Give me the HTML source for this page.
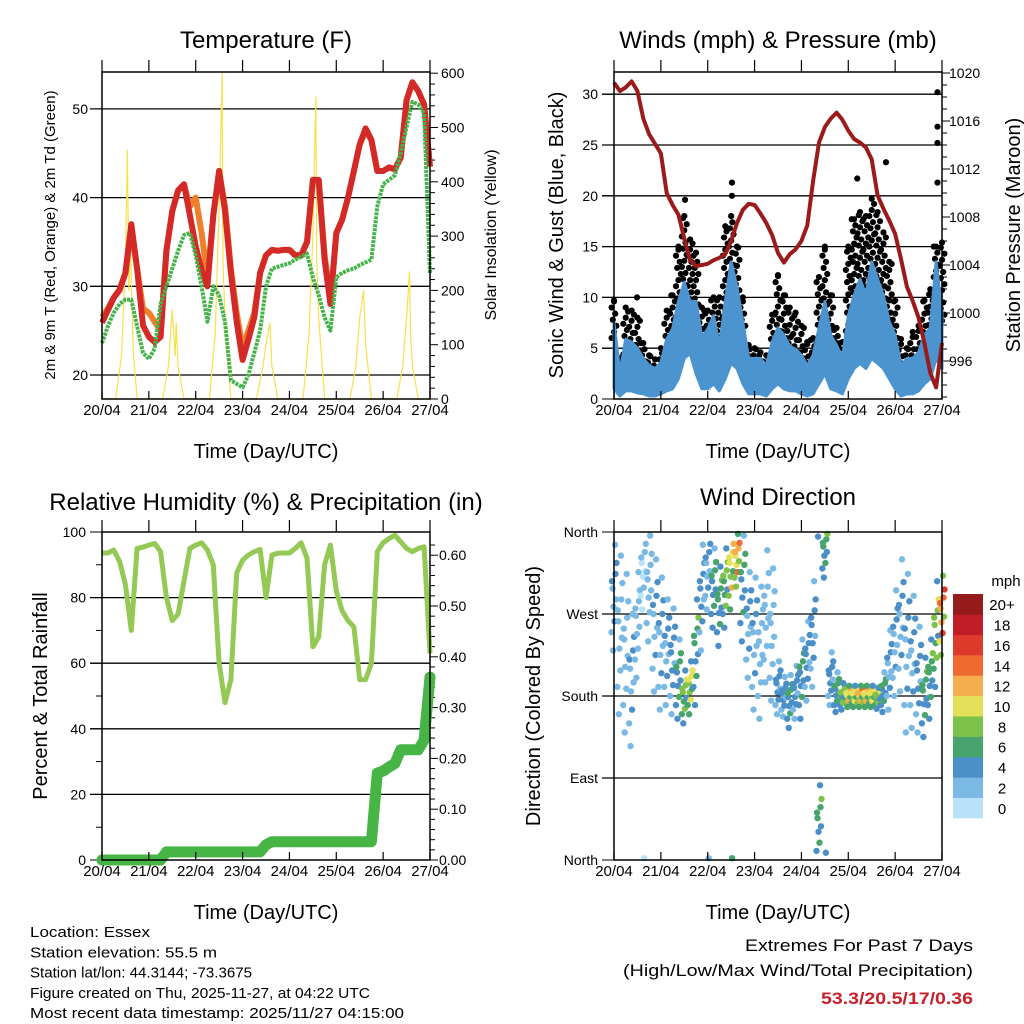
<!DOCTYPE html>
<html><head><meta charset="utf-8"><style>
html,body{margin:0;padding:0;background:#fff;}
svg{display:block;font-family:"Liberation Sans",Arial,sans-serif;}
</style></head><body>
<svg id="c" width="1024" height="1024" viewBox="0 0 1024 1024" xmlns="http://www.w3.org/2000/svg"></svg>
<script>
// ---- data (3-hourly, hour 0..168) ----
const dayLabels = ["20/04","21/04","22/04","23/04","24/04","25/04","26/04","27/04"];
const tempRed = [25.9,27.3,28.7,29.6,31.5,37,32,25.6,24.3,23.7,24.3,34,38.5,40.8,41.5,38,34.5,31.8,30,38,43,38.5,31.5,26,21.7,24,26.5,31.5,33.5,34.1,34,34.1,34.1,33.5,33.5,35,42,42,33,28,36,37.5,40,43,46,47.8,46.5,43,43,43.4,43.2,44.5,51,53,52,50.5,43.5];
const tempOrange = [26.5,27.5,28.7,29.6,31.5,36.5,32,27.5,27,26,25,34,38.5,40.8,41.5,39,40,36,31,38,43,39,32,27,23,25,27,31.5,33.5,34.1,34,34.1,34.1,33.5,33.5,35,42,42,33.5,28.5,36,37.5,40,43,46,47.5,46.5,43,43,43.4,43.2,44.5,51,53,52,50.5,43.5];
const dewGreen = [23.6,25.5,27,28,28.5,28.5,25.5,22.5,21.8,23,28,30,32,34,35.8,36,33.5,30,26,30,29,26,19.4,19,18.6,20,22.5,25,30,32,32.2,32.4,32.6,33,33.3,33.7,31,29,26.5,25,31,31.5,31.8,32,32.4,32.7,33,39,41.5,42,42.5,45,48,50.8,50.5,49.5,31.5];
const solarHour = [0,7,10,12,13,13.8,14.5,16,18,31,34,36,37.5,38,39,42,55,58,60,61.5,62,63,66,79,82,84,86,87,90,103,106,108,109.5,110,111,114,127,130,132,134,135,138,151,154,156,157.5,158,159,162,168];
const solarVal  = [0,0,80,250,458,200,300,90,0,0,60,164,80,140,60,0,0,120,350,600,250,150,0,0,50,100,140,60,0,0,120,300,556,250,150,0,0,60,150,200,100,0,0,60,150,234,120,60,0,0];
const pressure = [1019.2,1018.5,1018.8,1019.3,1018.5,1016.2,1014.9,1014.1,1013.3,1010,1009,1008.2,1006.2,1004.4,1003.9,1004,1004.1,1004.4,1004.6,1004.9,1006,1007.5,1008.6,1009.1,1009,1008.3,1007.5,1006.5,1005,1004.2,1004.9,1005.3,1006,1007.3,1011,1014.2,1015.5,1016.2,1016.7,1016.1,1015.2,1014.5,1014.2,1013.8,1012.8,1009.8,1008.7,1007.7,1006.6,1004.5,1002.2,1001,999.6,997.5,995,993.8,997.5];
const windHi = [7.5,2.6,5.9,5.6,5,4,3.3,3,3.6,5.9,6.9,9.6,11.5,9.6,9.6,6,6.9,8.2,5.2,9.6,13.5,11,7.5,4,4,4,3.3,5.6,7,6.3,5.2,4.9,4.3,3.3,4.3,7,9.6,6.3,5.3,4,8.2,10.2,11.8,10.2,13.5,11.8,10.2,7.6,6.3,3.3,4,4,4.6,6.3,7,13.5,8.6];
const windLo = [1,0.3,0.8,0.8,0.6,0.5,0.3,0.3,0.5,0.8,1,2,4,4.5,2.5,1,1,1.5,0.8,2,3.5,3,1.5,0.5,0.5,0.5,0.3,1,1.5,1,0.8,0.8,0.5,0.3,0.5,1.5,2.5,1,0.8,0.5,2,3,3.5,3,4,3.5,3,2,1,0.3,0.5,0.5,0.8,1.5,2,4,3];
const gust = [9.7,4,9,8.7,8,5.5,4.3,3.9,5,8.7,10.2,15,18,15.7,14.4,9,8.7,10,10,17,18,15,10,5.3,5,4.6,4.3,8.3,12.2,10.2,9,8.5,7.2,5.6,6,12,15,10.2,7,5.6,15,17.7,18.4,18,19.7,18.4,16.4,13.5,9.7,5.9,5,6.6,7.2,9.7,10.8,15,15.4];
const gustOutHour = [165.7,165.7,165.7,165.7,60.4,139.3,124.6,36.4,11.8,60.4];
const gustOutVal  = [30.2,26.8,25.2,21.3,21.3,23.3,21.7,19.6,10,20];
const rh = [93.6,93.6,94.5,91,84,70,95,95.4,96,96.5,94,80,73,75,85,95,96,96.7,94.5,90,60,48,55,87.5,91.4,93,94,94.7,80,93,93.5,93.6,93.6,95,96.7,92,65,68,90,96,82,76,73,71,55,55,60,94,96.7,98,99,97,95,94,95,95.5,63];
const precip = [0,0,0,0,0,0,0,0,0,0,0,0.016,0.016,0.016,0.016,0.016,0.016,0.016,0.016,0.016,0.016,0.016,0.016,0.016,0.016,0.016,0.016,0.016,0.03,0.036,0.036,0.036,0.036,0.036,0.036,0.036,0.036,0.036,0.036,0.036,0.036,0.036,0.036,0.036,0.036,0.036,0.036,0.171,0.175,0.183,0.19,0.217,0.217,0.217,0.217,0.236,0.36];
const dirMain = [290,250,230,200,260,320,300,260,240,230,220,200,180,190,230,290,320,300,280,300,320,330,300,260,240,230,270,250,190,180,175,185,200,220,250,40,340,200,185,180,180,180,180,180,180,178,185,210,240,260,230,220,200,180,200,250,270];
const dirSpread = [40,60,60,50,40,30,40,50,50,40,40,30,20,20,40,40,30,30,30,30,30,20,40,40,50,50,50,50,20,15,20,20,30,30,40,30,20,20,15,10,8,8,8,8,8,8,15,30,40,50,60,50,40,30,30,40,30];
const dirSpeed = [3,2,2,3,2,1,2,3,3,3,4,5,8,9,6,4,3,5,6,7,10,12,5,3,3,2,2,2,4,4,5,4,5,4,4,6,6,4,5,7,10,9,11,10,9,8,5,3,3,3,3,3,4,6,6,8,14];
const cbLabels = ["0","2","4","6","8","10","12","14","16","18","20+"];
const cbColors = ["#b8e2f7","#7ab9e4","#4a8fc8","#46a46c","#7dc24a","#e4e05a","#f6ad4e","#ee6a2e","#dd3a2c","#bf1e26","#941a1c"];

const NS="http://www.w3.org/2000/svg";
const svg=document.getElementById('c');
function el(tag,attrs,parent){const e=document.createElementNS(NS,tag);for(const k in attrs)e.setAttribute(k,attrs[k]);(parent||svg).appendChild(e);return e;}
function txt(s,x,y,size,anchor,parent,extra){const t=el('text',Object.assign({x:x,y:y,'font-size':size,'text-anchor':anchor||'start',fill:'#000'},extra||{}),parent);t.textContent=s;return t;}

function panel(name,L,R,T,B){
  const g=el('g',{});
  
  
  return {g,L,R,T,B,x:h=>L+h/168*(R-L)};
}
function frame(p){
  const f=el('rect',{x:p.L,y:p.T,width:p.R-p.L,height:p.B-p.T,fill:'none',stroke:'#000','stroke-width':1.5},p.g);
  
  
  for(let d=0;d<=7;d++){const x=p.x(d*24);
    el('line',{x1:x,x2:x,y1:p.B,y2:p.B-8,stroke:'#000','stroke-width':1.2},p.g);
    el('line',{x1:x,x2:x,y1:p.T,y2:p.T-12,stroke:'#000','stroke-width':1.2},p.g);
    const t=txt(dayLabels[d],x,p.B+16,15,'middle',p.g);
    
    
  }
  const xt=txt('Time (Day/UTC)',(p.L+p.R)/2,p.B+59,20,'middle',p.g);
  
  
}
function hgrid(p,y){el('line',{x1:p.L-12,x2:p.R,y1:y,y2:y,stroke:'#000','stroke-width':1.3},p.g);}
function path(pts){return pts.map((q,i)=>(i?'L':'M')+q[0].toFixed(1)+' '+q[1].toFixed(1)).join(' ');}
function rotText(s,x,y,size,parent,name){const t=txt(s,0,0,size,'middle',parent,{transform:`translate(${x},${y}) rotate(-90)`});return t;}
function title(s,x,y,name){const t=txt(s,x,y,24,'middle');}

// ===== Panel 1: Temperature =====
{
const p=panel('temperature-panel',102,430,72,399);
const yT=v=>375-(v-20)*8.87, yS=v=>399-v*0.543;
[20,30,40,50].forEach(v=>{hgrid(p,yT(v));const t=txt(String(v),p.L-14,yT(v)+5,14,'end',p.g);});
for(let v=0;v<=600;v+=20){const y=yS(v);if(y<p.T)continue;el('line',{x1:p.R,x2:p.R+(v%100?5:8),y1:y,y2:y,stroke:'#000'},p.g);}
for(let v=0;v<=600;v+=100){const t=txt(String(v),p.R+11,yS(v)+5,14,'start',p.g);}
const sol=el('path',{d:path(solarHour.map((h,i)=>[p.x(h),yS(solarVal[i])])),fill:'none',stroke:'#f7e14a','stroke-width':1.2,'stroke-linejoin':'round'},p.g);

const o=el('path',{d:path(tempOrange.map((v,i)=>[p.x(i*3),yT(v)])),fill:'none',stroke:'#f07f2c','stroke-width':6,'stroke-linejoin':'round'},p.g);

const r=el('path',{d:path(tempRed.map((v,i)=>[p.x(i*3),yT(v)])),fill:'none',stroke:'#d42a27','stroke-width':6,'stroke-linejoin':'round'},p.g);

const gr=el('path',{d:path(dewGreen.map((v,i)=>[p.x(i*3),yT(v)])),fill:'none',stroke:'#45b34a','stroke-width':4,'stroke-linejoin':'round','stroke-dasharray':'3 1'},p.g);

frame(p);
rotText('2m & 9m T (Red, Orange) & 2m Td (Green)',55,235,15,p.g,'y-axis-title');
rotText('Solar Insolation (Yellow)',496,235,16,p.g,'y2-axis-title');
title('Temperature (F)',266,48,'temperature-title');
}

// ===== Panel 2: Winds & Pressure =====
{
const p=panel('wind-pressure-panel',614,942,72,399);
const yW=v=>399-v*10.16, yP=v=>73+(1020-v)*12;
[5,10,15,20,25,30].forEach(v=>hgrid(p,yW(v)));
[0,5,10,15,20,25,30].forEach(v=>{el('line',{x1:p.L-12,x2:p.L,y1:yW(v),y2:yW(v),stroke:'#000'},p.g);const t=txt(String(v),p.L-16,yW(v)+5,14,'end',p.g);});
for(let v=993;v<=1020;v++){el('line',{x1:p.R,x2:p.R+(v%4?5:8),y1:yP(v),y2:yP(v),stroke:'#000'},p.g);}
for(let v=996;v<=1020;v+=4){const t=txt(String(v),p.R+7,yP(v)+5,14,'start',p.g);}
const dx=[-2.4,0,2.4,-1.2,1.2];
gust.forEach((gv,i)=>{
  const x=p.x(i*3);
  for(let v=Math.max(0.5,windHi[i]-1.5),j=0;v<=gv;v+=0.6,j++){
    const d=el('circle',{cx:x+dx[j%5],cy:yW(v),r:3.1,fill:'#000'},p.g);
    
  }
  const d=el('circle',{cx:x,cy:yW(gv),r:3.1,fill:'#000'},p.g);
  
});
gustOutHour.forEach((h,i)=>{const d=el('circle',{cx:p.x(h),cy:yW(gustOutVal[i]),r:3.1,fill:'#000'},p.g);});
const top=windHi.map((v,i)=>[p.x(i*3),yW(v)]), bot=windLo.map((v,i)=>[p.x(i*3),yW(v)]).reverse();
const band=el('path',{d:path(top.concat(bot))+' Z',fill:'#4b94d0',stroke:'#4b94d0','stroke-width':3,'stroke-linejoin':'round'},p.g);

const pr=el('path',{d:path(pressure.map((v,i)=>[p.x(i*3),yP(v)])),fill:'none',stroke:'#9b1b1b','stroke-width':4,'stroke-linejoin':'round'},p.g);

frame(p);
rotText('Sonic Wind & Gust (Blue, Black)',563,235,20,p.g,'y-axis-title');
rotText('Station Pressure (Maroon)',1020,235,20,p.g,'y2-axis-title');
title('Winds (mph) & Pressure (mb)',778,48,'wind-pressure-title');
}

// ===== Panel 3: RH & Precip =====
{
const p=panel('humidity-precip-panel',102,430,532,860);
const yR=v=>860-v*3.28, yQ=v=>860-v*508;
[20,40,60,80].forEach(v=>hgrid(p,yR(v)));
for(let v=0;v<=100;v+=10){el('line',{x1:p.L-(v%20?6:12),x2:p.L,y1:yR(v),y2:yR(v),stroke:'#000'},p.g);}
[0,20,40,60,80,100].forEach(v=>{const t=txt(String(v),p.L-16,yR(v)+5,14,'end',p.g);});
for(let v=0;v<=0.64;v+=0.02){const y=yQ(v);if(y<p.T)continue;el('line',{x1:p.R,x2:p.R+(Math.round(v*100)%10?5:8),y1:y,y2:y,stroke:'#000'},p.g);}
["0.00","0.10","0.20","0.30","0.40","0.50","0.60"].forEach(s=>{const t=txt(s,p.R+9,yQ(parseFloat(s))+5,14,'start',p.g);});
const rl=el('path',{d:path(rh.map((v,i)=>[p.x(i*3),yR(v)])),fill:'none',stroke:'#93c954','stroke-width':5,'stroke-linejoin':'round'},p.g);

const pl=el('path',{d:path(precip.map((v,i)=>[p.x(i*3),yQ(v)])),fill:'none',stroke:'#47b446','stroke-width':11,'stroke-linejoin':'round','stroke-linecap':'round'},p.g);

frame(p);
rotText('Percent & Total Rainfall',47,696,20,p.g,'y-axis-title');
title('Relative Humidity (%) & Precipitation (in)',266,510,'humidity-title');
}

// ===== Panel 4: Wind direction =====
{
const p=panel('wind-direction-panel',614,942,532,860);
const yD=v=>860-v/360*328;
[90,180,270].forEach(v=>hgrid(p,yD(v)));
["North","East","South","West","North"].forEach((s,i)=>{el('line',{x1:p.L-12,x2:p.L,y1:yD(i*90),y2:yD(i*90),stroke:'#000'},p.g);const t=txt(s,p.L-16,yD(i*90)+5,14,'end',p.g);});
const ox=[-2.5,1.5,-0.5,2.5,-1.5,0.5,2,-2,1,-1];
const od=[-1,0.6,-0.3,0.9,0.2,-0.7,-0.1,0.4,1.4,-1.5];
const os=[0.7,1,0.8,1.2,0.9,1.1,0.6,1,0.5,0.6];
function col(s){const k=Math.min(10,Math.max(0,Math.round(s/2)));return cbColors[k];}
dirMain.forEach((d,i)=>{
  for(let j=0;j<10;j++){
    let dd=d+od[j]*dirSpread[i]; dd=((dd%360)+360)%360;
    const c=el('circle',{cx:p.x(i*3)+ox[j],cy:yD(dd),r:3.2,fill:col(dirSpeed[i]*os[j])},p.g);
    
  }
});
frame(p);
rotText('Direction (Colored By Speed)',540,696,20,p.g,'y-axis-title');
title('Wind Direction',778,505,'wind-direction-title');
// colorbar
const cb=el('g',{});
const h=224/11;
cbColors.forEach((c,i)=>{const y=818-(i+1)*h;el('rect',{x:953,y:y,width:30,height:h+0.3,fill:c},cb);const t=txt(cbLabels[i],1002,y+h/2+6,15,'middle',cb);});
const mt=txt('mph',1006,586,15,'middle',cb);
}

// ===== footer text =====
const info=["Location: Essex","Station elevation: 55.5 m","Station lat/lon: 44.3144; -73.3675","Figure created on Thu, 2025-11-27, at 04:22 UTC","Most recent data timestamp: 2025/11/27 04:15:00"];
const infoW=[120,187,222,340,374];
info.forEach((s,i)=>{const t=txt(s,30,937+i*20.3,15,'start',null,{textLength:infoW[i],lengthAdjust:'spacingAndGlyphs'});});
const e1=txt('Extremes For Past 7 Days',973,951,17,'end',null,{textLength:228,lengthAdjust:'spacingAndGlyphs'});
const e2=txt('(High/Low/Max Wind/Total Precipitation)',973,976,17,'end',null,{textLength:350,lengthAdjust:'spacingAndGlyphs'});
const e3=txt('53.3/20.5/17/0.36',973,1004,17,'end',null,{fill:'#c8202a','font-weight':'bold',textLength:152,lengthAdjust:'spacingAndGlyphs'});
</script>
</body></html>
